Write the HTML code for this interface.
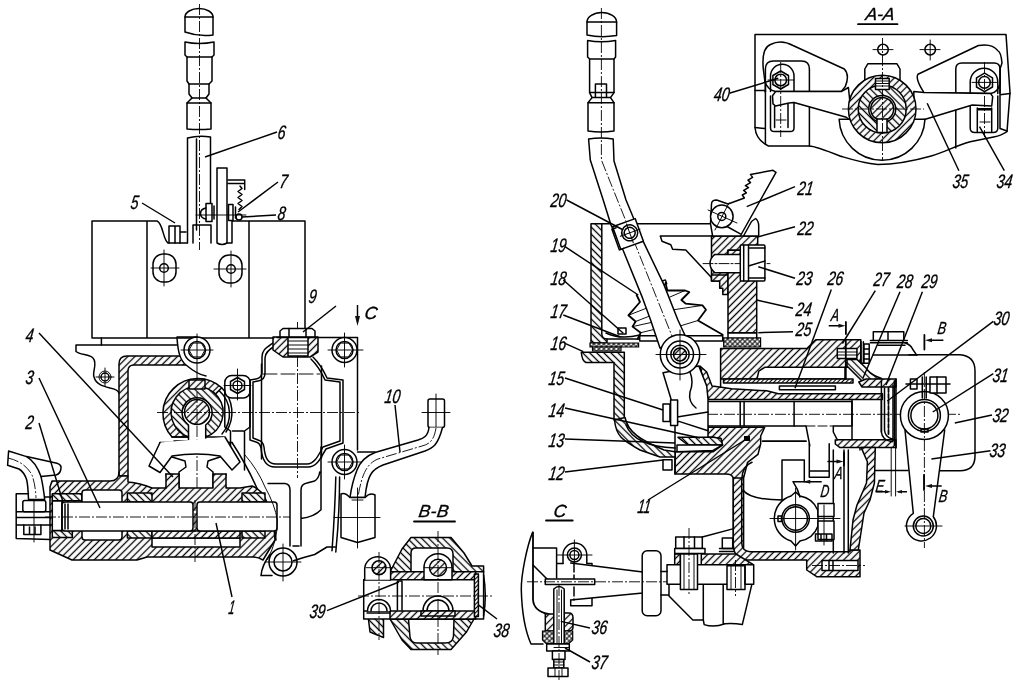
<!DOCTYPE html>
<html><head><meta charset="utf-8"><title>Drawing</title>
<style>
html,body{margin:0;padding:0;background:#fff;}
svg{display:block;filter:grayscale(1)}
.k{stroke:#000;stroke-width:1.5;fill:none;stroke-linecap:round;stroke-linejoin:round}
.kw{stroke:#000;stroke-width:1.5;fill:#fff;stroke-linecap:round;stroke-linejoin:round}
.b{stroke:#000;stroke-width:1.8;fill:none;stroke-linecap:round;stroke-linejoin:round}
.t{stroke:#000;stroke-width:.95;fill:none;stroke-linecap:round}
.c{stroke:#000;stroke-width:.9;fill:none;stroke-dasharray:11 2 2 2}
.l{stroke:#000;stroke-width:1.45;fill:none}
.h{stroke:#000;stroke-width:1.5;fill:url(#h1);stroke-linejoin:round}
.h2{stroke:#000;stroke-width:1.5;fill:url(#h2);stroke-linejoin:round}
.hd{stroke:#000;stroke-width:1.5;fill:url(#h3);stroke-linejoin:round}
.x{stroke:#000;stroke-width:1.2;fill:url(#hx)}
text{font-family:"Liberation Sans",sans-serif;font-style:italic;font-size:19.500px;fill:#000;stroke:#000;stroke-width:.35}
.lt{font-size:17.500px}
</style></head><body>
<svg width="1020" height="683" viewBox="0 0 1020 683">
<defs>
<pattern id="h1" width="5" height="5" patternUnits="userSpaceOnUse" patternTransform="rotate(-45)"><rect width="5" height="5" fill="#fff"/><line x1="0" y1="2.5" x2="5" y2="2.5" stroke="#000" stroke-width="1.300"/></pattern>
<pattern id="h2" width="5" height="5" patternUnits="userSpaceOnUse" patternTransform="rotate(45)"><rect width="5" height="5" fill="#fff"/><line x1="0" y1="2.5" x2="5" y2="2.5" stroke="#000" stroke-width="1.300"/></pattern>
<pattern id="h3" width="3" height="3" patternUnits="userSpaceOnUse" patternTransform="rotate(-45)"><rect width="3" height="3" fill="#fff"/><line x1="0" y1="1.5" x2="3" y2="1.5" stroke="#000" stroke-width="1.100"/></pattern>
<pattern id="hx" width="3.5" height="3.5" patternUnits="userSpaceOnUse" patternTransform="rotate(45)"><rect width="3.5" height="3.5" fill="#fff"/><path d="M0 1.75H3.5M1.75 0V3.5" stroke="#000" stroke-width="1"/></pattern>
</defs>
<rect width="1020" height="683" fill="#fff"/>

<!-- ===== LEFT VIEW ===== -->
<g id="left">
<!-- lever -->
<path class="k" d="M185 17A14 8.500 0 0 1 213 17"/>
<path class="k" d="M185 17V32Q199 37 213 35V17M185 17H213"/>
<path class="k" d="M185 42Q199 45 214 42V55L212 57V81L209 84V94L206 98L211 103V129M185 42V55L187 57V81L189 84V94L192 98L187 103V129Q199 130 211 129"/>
<path class="k" d="M187 57H212M189 84H209M192 98H206M187 103H211"/>
<path class="k" d="M187.500 138Q199 135 210.500 137V218M187.500 138V243M196.500 139V230"/>
<path class="c" d="M199.500 4V250"/>
<!-- latch plate -->
<path class="k" d="M217 243V168H227V243Q222 246 217 243"/>
<path class="k" d="M228 180H244.700V189.500M228 183.500H243.500"/>
<path class="k" stroke-width="1" d="M240 186l2 2.500l-4 3l4 3l-4 3l4 3l-4 3l4 3l-3 3"/>
<circle class="k" cx="239" cy="217" r="3"/>
<path class="kw" d="M206 203.500V221.500H212V203.500ZM228.500 204.500V220.500H233V204.500Z"/><path class="k" d="M214 206V219M235.500 207V218"/>
<path class="k" d="M206 208Q200.500 209 200.500 213.500Q200.500 218 206 219"/>
<path class="t" d="M196 215H246"/>

<!-- box -->
<path class="k" d="M92 338V221H157C163 223 163 240 168 243H187M193 243V225H211V243M227 243H232V221M232 221H305V338M92 338H277M147 221V338M249 221V338"/>
<path class="k" d="M169 226H180V243M169 226V243M180 232H186M175 226V243"/>
<g id="bh1"><rect class="k" x="153" y="254" width="23" height="28" rx="10"/><circle class="k" cx="164" cy="268" r="4.300"/><path class="t" d="M151 268H179M164 250V286"/></g>
<g><rect class="k" x="219" y="255" width="23" height="28" rx="10"/><circle class="k" cx="231" cy="269" r="4.300"/><path class="t" d="M214 269H246M231 251V287"/></g>
<!-- flange -->
<path class="k" d="M177 345H76V351.500C80 355 90 354 93 358C98 364 92 371 94 377C96 384 102 386 110 388C115 389 118 390 119 393"/>
<path class="k" d="M101.400 338V345"/>
<circle class="k" cx="105" cy="377" r="4"/><circle class="t" cx="105" cy="377" r="6"/><path class="t" d="M96 377H114M105 368V386"/>
<!-- wall hatched -->
<path class="h" d="M119 476V364Q119 356 127 356H185L190 365H134Q128 365 128 371V476Z"/>
<!-- boss lug -->
<path class="kw" d="M177 338C178 352 180 360 186 365C192 370 200 375 206 376"/>
<circle class="kw" cx="197" cy="350" r="13"/><circle class="k" cx="197" cy="350" r="8.500"/><path class="t" d="M181 350H213M197 334V382"/>

<!-- selector -->
<path class="h" d="M172 437A35 35 0 0 1 221.700 387.800L215.400 394.100A26 26 0 0 0 188.300 437Z"/>
<path class="h2" d="M188.500 437A26 26 0 1 1 205.700 437V425A15 15 0 1 0 188.500 425Z"/>
<circle class="h" cx="197" cy="412" r="12.500"/>
<rect class="h" x="189" y="380" width="16" height="9"/>
<path class="k" d="M221.700 387.800A35 35 0 0 1 226 432M219.500 391A31 31 0 0 1 222 434"/>
<path class="c" d="M157 412.500H360"/><path class="c" d="M197 392V500"/>
<!-- fork neck + fork -->
<path class="k" d="M188.500 437V441H174M205.700 437V441H222M160 442.500H232M172 437H188.500M205.700 437H224"/>
<path class="kw" d="M160 442.500L149 466L160 472.500L172 456Q197 452 220 456L232 470L240 462L225 437"/>
<rect x="166.700" y="473" width="11.600" height="16" fill="#fff"/><rect x="213.700" y="473" width="11.600" height="16" fill="#fff"/><path class="k" d="M172 457L185 461L186 467L179 472V488M166 474Q168 482 166 488M213 488V472L207 467L208 461L220 457M226 474Q224 482 226 488"/>
<path class="k" d="M232 442.500Q250 470 262 500Q275 520 276 540"/>
<!-- bolt bracket -->
<rect class="kw" x="224.800" y="375.500" width="25.400" height="22.500" rx="7"/>
<path class="k" d="M237.500 377.500l7 4v8l-7 4l-7-4v-8z"/><circle class="k" cx="237.500" cy="385.500" r="4.500"/><path class="t" d="M224 385.500H251M237.500 369V400"/>
<path class="k" d="M224.800 390V427L230.500 431V446M250 390V427L244.500 431V470M232.500 431H243.500"/>
<!-- cylinder -->
<path class="k" d="M273 343C266 348 262 350 262 357V372Q262 378 256 379L250 380V440L256 442Q260 443 261 448C262 460 266 467 275 467H308C318 467 322 455 326 449L343 443V380L327 378C324 372 322 366 313 357"/>
<path class="k" d="M275 346C268 350 265 353 265 358V373Q265 380 258 381L253 382V438L258 440Q263 441 264 447C265 458 268 464 276 464H307C315 464 319 454 323 447L340 441V382L325 380C322 374 320 368 311 359"/>
<path class="k" d="M261.500 364V459M321.500 366V458"/>
<path class="t" d="M263 374H320" stroke-dasharray="14 4"/>
<path class="c" d="M297.500 322V478"/>
<!-- nut 9 -->
<path class="h" d="M273 337H318V352L310 357H283L273 350Z"/>
<rect class="kw" x="288" y="337" width="20" height="19"/><path class="t" d="M288 341H308M288 345H308M288 349H308M288 353H308"/>
<path class="kw" d="M280 337V331L283 328.500H312L315 331V337Z"/><path class="k" d="M289 328.500V337M306 328.500V337"/>
<path class="k" d="M277 337.400H357.500V450M197 337H177"/>
<g><circle class="kw" cx="344.500" cy="350" r="12.500"/><circle class="k" cx="344.500" cy="350" r="8.500"/><path class="t" d="M328 350H363M344.500 333V367"/></g>
<g><circle class="kw" cx="344.500" cy="462" r="12.500"/><circle class="k" cx="344.500" cy="462" r="8.500"/><path class="t" d="M328 462H363M344.500 445V479"/></g>

<path class="t" d="M205.0 350.0L201.0 356.9L193.0 356.9L189.0 350.0L193.0 343.1L201.0 343.1ZM352.5 350.0L348.5 356.9L340.5 356.9L336.5 350.0L340.5 343.1L348.5 343.1ZM352.5 462.0L348.5 468.9L340.5 468.9L336.5 462.0L340.5 455.1L348.5 455.1ZM291.5 562.0L287.2 569.4L278.8 569.4L274.5 562.0L278.8 554.6L287.2 554.6Z"/>
<!-- arrow C -->
<path class="l" d="M357.500 305V322"/><path d="M355 316H360L357.500 326Z" fill="#111"/>
<text class="lt" transform="translate(364 319) skewX(-8)">C</text>

<!-- bottom housing -->
<path class="h" d="M52 481H110Q119 481 119 472V476H128V482Q140 483 152 488H166V474H179V488H213V474H226V488H240L252 486Q262 490 266 500Q274 520 275 540L263 560Q258 557 253 557H147L137 560H72L50 550V487Z"/>

<rect class="h2" x="52.300" y="493.700" width="29.500" height="7"/><rect class="h2" x="52.300" y="530.500" width="20" height="7"/>
<rect class="kw" x="52.300" y="501" width="10" height="29.500"/>
<rect class="kw" x="82" y="490" width="40" height="50" rx="3"/>
<rect class="h2" x="127.400" y="493" width="24.600" height="9"/><rect class="h2" x="127.400" y="531" width="24.600" height="7"/>
<rect class="h2" x="242" y="493" width="23" height="9"/><rect class="h2" x="242" y="531" width="23" height="7"/>
<rect class="kw" x="152" y="538" width="88" height="9"/>
<rect class="h" x="152" y="531" width="88" height="7"/>
<rect class="kw" x="62" y="502" width="131" height="29" rx="3"/>
<rect class="kw" x="197" y="502" width="80" height="29" rx="3"/>
<path class="k" d="M62 502V531M68 504V529M65 504V529"/>
<path class="c" d="M45 517H290"/><path class="c" d="M195 500V564"/>

<circle class="kw" cx="283" cy="562" r="14"/><circle class="k" cx="283" cy="562" r="9"/><path class="t" d="M265 562H301M283 544V581"/>

<!-- lower right webs -->
<path class="k" d="M268 483.500H285Q290 484 290 490V546M301 546V490Q301 484 307 483L314.700 481Q319 478 319.700 472M293 546H299M301 518.400Q314 517 321 509.700V447M335.800 477Q335 510 332 550.700M339.600 477Q339.500 515 335.800 552M293.500 560.700Q305 557 314.700 554.500Q322 550 327 547H335M270 554.500Q262 565 261 575.600H272"/>
<path class="t" d="M245 455Q258 470 265 487Q275 505 277.300 520Q278 540 267.400 559.500"/>
<!-- left pipe fitting -->
<path class="kw" d="M8.600 451L26.600 456.600L57 463.300Q62 465 60.900 469Q60 474 56 475L41 476.600Q43 485 44.700 499.400H28.500Q28 485 26.600 479.500Q24 472 19 469L7.600 465.200Z"/>
<path class="k" d="M26.600 456.600Q36 462 41 476.600"/>
<path class="c" d="M8 458Q25 462 32 475Q35.500 485 36 498"/>
<path class="k" d="M28.500 493.700H16.200V538.400L50.400 539.400M44.700 497H51M16.200 511.800H51M16.200 517.500H51M16.200 525H51"/>
<rect class="k" x="22.800" y="500.400" width="23" height="11.400" rx="2"/>
<path class="k" d="M23.800 525V534.600H40.900V525M29.500 527V534.600M35 527V534.600"/>
<path class="t" d="M34 500V542"/>
<!-- pipe 10 -->
<rect class="kw" x="428" y="399" width="16.500" height="28.500" rx="2"/>
<path class="t" d="M422 412.500H450M436 394V432"/>
<path class="kw" d="M429 427.500C428 436 424 438 418 440L375 452.500C366 456 360 462 357 470C353 480 351 490 350 497.500H365C366 488 367 480 371 474C374 469 378 467 383 465L425 451C433 448 438 445 442.500 427.500"/>
<path class="c" d="M436 428C434 440 430 444 422 446L378 459C368 463 362 472 358 497"/>
<path class="kw" d="M341 494Q345 492 350 497.500H365Q370 492 375 495V537.500L357.500 542.500L341 537.500Z"/>
<path class="t" d="M334 517.500H380M357.500 488V548M352 500H363"/>
<path class="k" d="M357.500 452H375"/>
<!-- labels left -->
<text transform="translate(277 138.5) skewX(-8)" textLength="7.800" lengthAdjust="spacingAndGlyphs">6</text><path class="l" d="M205 157L277 132"/>
<text transform="translate(279 187.5) skewX(-8)" textLength="7.800" lengthAdjust="spacingAndGlyphs">7</text><path class="l" d="M238 212L278 182"/>
<text transform="translate(277 219.5) skewX(-8)" textLength="7.800" lengthAdjust="spacingAndGlyphs">8</text><path class="l" d="M242 217L276 215"/>
<text transform="translate(130 208.5) skewX(-8)" textLength="7.800" lengthAdjust="spacingAndGlyphs">5</text><path class="l" d="M142 203L175 223"/>
<text transform="translate(308 302.5) skewX(-8)" textLength="7.800" lengthAdjust="spacingAndGlyphs">9</text><path class="l" d="M303 332L336 306"/>
<text transform="translate(25 341.5) skewX(-8)" textLength="7.800" lengthAdjust="spacingAndGlyphs">4</text><path class="l" d="M39 333L173 477"/>
<text transform="translate(25 383.5) skewX(-8)" textLength="7.800" lengthAdjust="spacingAndGlyphs">3</text><path class="l" d="M39 378L100 508"/>
<text transform="translate(25 428.5) skewX(-8)" textLength="7.800" lengthAdjust="spacingAndGlyphs">2</text><path class="l" d="M39 423L63 502"/>
<text transform="translate(228 613.5) skewX(-8)" textLength="6" lengthAdjust="spacingAndGlyphs">1</text><path class="l" d="M232 597L216 523"/>
<text transform="translate(384 402.5) skewX(-8)" textLength="15.600" lengthAdjust="spacingAndGlyphs">10</text><path class="l" d="M395 405L400 452"/>
</g>

<!-- ===== B-B ===== -->
<g id="bb">
<text class="lt" transform="translate(418 517) skewX(-8)" textLength="30" lengthAdjust="spacing">B-B</text>
<path class="b" d="M414 521.500H455" stroke-width="2.200"/>
<path class="h2" d="M390 572L402 549L411 537.500H451L464 553L472 566H483.600V572Z"/>
<path class="kw" d="M411 572V553Q411 548 416 548H447Q453 548 453 554V572Z"/>
<path class="h2" d="M390 619L402 640L411 649.500H451L466.500 632L474 619Z"/>
<path class="kw" d="M408.500 619L410 637Q411 643 417 643H445Q453 643 453.500 636L454 619Z"/>
<path class="h2" d="M367.700 613L370 632L383.500 637.500V613Z"/>
<path class="kw" d="M390 571.700H483.600V619H363.700V579.700H390Z"/>
<rect class="h" x="390" y="571.700" width="85.700" height="8"/>
<rect class="h" x="390" y="611" width="85.700" height="8"/>
<path class="k" d="M363.700 579.700H390M363.700 611H390M367 613H390M483.600 575Q487 596 483.600 616"/>
<path class="kw" d="M364.700 579.700V568.500A13 13 0 0 1 390.600 568.500V579.700"/>
<circle class="h" cx="379" cy="567.700" r="7"/>
<path class="kw" d="M424 579.700V567.700A14 14 0 0 1 452 567.700V579.700Z"/>
<circle class="h" cx="438" cy="567.700" r="8.500"/>
<path class="kw" d="M367.500 611A11.500 11.500 0 0 1 390.500 611"/><path class="k" d="M371 611A8 8 0 0 1 387 611"/>
<path class="kw" d="M423 611A15 15 0 0 1 453 611Z"/><path class="k" d="M427 611A11 11 0 0 1 449 611"/>
<path class="h" d="M421 611H455V616H421Z"/>
<path class="k" d="M397.400 581V610M402 581V610M397.400 581H402"/>
<rect class="hd" x="474.400" y="574" width="4" height="42.500"/>
<path class="c" d="M358 596H492"/><path class="c" d="M438 531V655"/><path class="c" d="M379 552V640"/>
<path class="t" d="M366 567.700H392M424 567.700H452"/>
<text transform="translate(493 636.5) skewX(-8)" textLength="15.600" lengthAdjust="spacingAndGlyphs">38</text><path class="l" d="M478 604.600L497 619"/>
<text transform="translate(309 617.5) skewX(-8)" textLength="15.600" lengthAdjust="spacingAndGlyphs">39</text><path class="l" d="M327 610.700L399 582"/>
</g>

<!-- ===== C view ===== -->
<g id="cv">
<text class="lt" transform="translate(553 517) skewX(-8)">C</text>
<path class="b" d="M546 520.500H572.700" stroke-width="2.200"/>
<path class="k" d="M532.600 532.400C527 546 521 575 521.300 590C522 617 527 635 531 644H543"/>
<path class="b" d="M533 532.400V600Q534 611 548 614"/>
<path class="k" d="M533 548H556.600V578M533 565L548 580"/>
<path class="kw" d="M563 563.400V555A11.800 11.800 0 0 1 586.800 555V563.400H592V605.800H570.700V600"/>
<circle class="k" cx="574.400" cy="555" r="7"/><circle class="k" cx="574.400" cy="555" r="4.500"/>
<path class="t" d="M557 555H592M574.400 540V572"/>
<path class="kw" d="M570.700 563L642.800 572V593L570.700 600"/>
<path class="k" d="M556.600 563.400H563M574 563V600" stroke-dasharray="9 3"/>
<rect class="kw" x="642.200" y="550.700" width="18.800" height="65" rx="5"/>
<rect class="kw" x="545.300" y="579" width="49.400" height="5.600"/>
<path class="h" d="M545.300 614H553.800V631H545.300Z"/><path class="h" d="M564.200 613H569Q573 613 573 618V627Q573 631 569 631H564.200Z"/>
<path class="x" d="M542.500 631H572.700V640L569 643.500H546L542.500 640Z"/>
<path class="kw" d="M553.800 644V589Q559 584 564.200 589V644Z"/><path class="t" d="M557 590V644M561.500 590V644"/>
<rect class="kw" x="546.700" y="644" width="22.600" height="7"/><rect class="kw" x="552.400" y="651" width="12.600" height="8.500"/>
<rect class="kw" x="553.800" y="659.500" width="10" height="8.500"/><rect class="kw" x="548" y="668" width="20" height="8.400"/>
<path class="t" d="M554 662H564M554 665H564M554 647.500H569M555 668V676M562 668V676"/>
<path class="c" d="M527 581.800H668"/><path class="c" d="M559 585V680"/>
<text transform="translate(591 633.5) skewX(-8)" textLength="15.600" lengthAdjust="spacingAndGlyphs">36</text><path class="l" d="M560.800 621.400L590 628"/>
<text transform="translate(591 668.5) skewX(-8)" textLength="15.600" lengthAdjust="spacingAndGlyphs">37</text><path class="l" d="M565 648L590 662"/>
</g>

<!-- ===== RIGHT VIEW ===== -->
<g id="right">
<!-- lever top -->
<path class="k" d="M587 22A14.800 9.500 0 0 1 616.600 22"/>
<path class="k" d="M587 22V35Q601 38 616.600 35.500V22ZM587.600 40.500Q601 43 615.600 40.500V57L614 59V92.600L610.500 97.600L614 102.700V131Q601 133 588 131V102.700L592 97.600L589.600 92.600V59L587.600 57Z"/>
<path class="k" d="M589.600 59H614M592 97.600H610.500M588 102.700H614M589.600 92.600H614M595.400 97.600V84H606.500V97.600"/>

<!-- box / boot -->
<path class="h2" d="M591 223.800H601.800V334Q602 339 607 339V343H591Z"/>
<path class="k" d="M601.800 223.800H712.800M607 339H640"/>
<path class="x" d="M590 343H638.600V347H590Z"/><path class="x" d="M592.500 347H621V351H592.500Z"/>
<path class="k" d="M606 333Q620 340 640 335M618 328H626V334H618Z"/>
<path class="h2" d="M581.300 352.200H624.300V420H614V362.500H586Q582 361 581.300 352.200Z"/>
<path class="kw" d="M639.700 335.800H722.700V341H639.700Z"/>
<!-- bellows -->
<path class="b" stroke="#000" stroke-width="2.700" d="M636.600 295L640 302L628.400 315.300L635.600 321.500L632.500 326.600L640.700 332.700L637.600 339M665.600 283L667.300 290.500H685L689.300 292L681.400 300L685.800 303.700L702.500 305.400L706 309.800L698 320.500L722.700 334.800"/>
<path class="t" d="M628.400 315.300L652 306M635.600 321.500L655 314M632.500 326.600L658 321M640.700 332.700L660 328M702.500 305.400L672 310M698 320.500L680 326M685 290.500L670 297"/>
<rect class="k" x="662" y="280.500" width="4" height="4" transform="rotate(-20 664 282)"/>
<!-- lever lower -->
<path class="kw" d="M588.600 139Q601 137 613.200 139L614 161L626 200L634 219.300L642.700 240.400L663.800 284.400L677.900 320L689 344L660 348L650.600 320L642.700 298.400L623.400 251L611 225L603.200 200L590.300 160Z"/>
<path class="c" d="M601.400 8V160L684 366"/>
<!-- clamp 20 -->
<g transform="rotate(-20 628 234)"><rect class="kw" x="616" y="222" width="24" height="24"/><path class="k" d="M619 224H614.500V246H619"/><circle class="k" cx="630" cy="233.500" r="8"/><circle class="k" cx="630" cy="233.500" r="5.500"/><path class="t" d="M620 233.500H641M630 224V244"/></g>
<!-- shelf -->
<path class="k" d="M712.800 236H660.300L662 241.300L670.800 244.800L672.600 249.200L685.800 250L712.800 279"/>
<!-- block 22/24 -->
<path class="h" d="M711.500 236H757.700V250.300H728V281H711.500Z"/>
<path class="h" d="M711.500 275V281H719.700V288.200H722.800V294.400H728V275Z"/>
<path class="h" d="M728 250.300H756.700V332.700H728Z"/>
<path class="kw" d="M743.300 254.400H715Q710 258 710 263.600Q710 269 715 272.800H743.300Z"/>
<path class="t" d="M703 263.600H770" stroke-dasharray="10 2 2 2"/>
<rect class="kw" x="740.300" y="245" width="24.600" height="36" rx="1"/><path class="k" d="M743.700 245V281M748.500 245V281M748.500 266L765 261M748.500 248H765M748.500 278H765"/>
<path class="x" d="M723.700 337.900H760.600V347H723.700Z"/>
<path class="k" d="M728 332.700H756.700V337.900M728 332.700V337.900"/>
<!-- sector 21 -->
<path class="kw" d="M711.500 204Q711.500 200 716.700 200L728 204L744.400 198L742.300 195L746.400 192.800L743.700 190.400L748.500 187.700L745.400 185.600L750.500 182.600L748 180.100L752.600 177.400L750.500 174.400L773 170.300L776 172.300L740.300 236H712.600L710.500 223.600Z"/>
<path class="kw" d="M751.500 221.500L755.600 218.500Q758.700 221 758.700 226V236H743.500Z"/>
<circle class="kw" cx="721.800" cy="216.400" r="11.300"/><circle class="k" cx="721.800" cy="216.400" r="4"/>
<path class="k" d="M727 226.500L740.300 233.800"/>
<path class="t" d="M708 210L737 223M715 230L729 203"/>
<!-- main housing upper -->
<path class="h" d="M720.600 348.600H806.900L815.700 339.800H860.800V367.300H845V379H720.600Z"/>
<path class="kw" d="M757 379L758.800 371.200L764.700 367.300H845V379Z"/>
<path class="hd" d="M723.500 379H853V383H723.500Z"/>
<path class="h" d="M700 366L706.700 372L712 386L719.600 386.900L731.400 388.800L766.700 390.800L778.400 393.700H882.400V399.600H708.800L706 392Z"/>
<path class="k" d="M720.600 379V387"/>
<rect class="kw" x="779.400" y="385.900" width="56" height="3.900"/>
<rect class="kw" x="837.300" y="348.600" width="19.600" height="9.800"/><path class="t" d="M837.300 352H857M837.300 355H857"/>
<path class="h2" d="M847 359.500H857L866 368Q870 374 876 376.200L881.500 378.500L866 381H862L847 366Z"/><path class="b" stroke-width="2.400" d="M845.800 340V379"/>
<path class="h" d="M858.800 382L866 379H896V387H862Z"/>
<path class="h" d="M835.300 439.800H896V447.600H840L835.300 444Z"/>
<!-- shaft -->
<path class="kw" d="M707.800 401.600H852V426H833.300V432L837.300 439.800M806 426L809.800 445.700M806 426H707.800Z"/>
<path class="k" d="M740.200 401.600V426M744.100 401.600V426M794.100 401.600V426M852 399.600V439.800M881.400 399.600V432"/>
<path class="c" d="M690 414.300H960"/>
<path class="t" d="M806 426H833" stroke-dasharray="9 3"/>
<!-- end cap -->
<path class="k" d="M881.400 381V432Q882 440 892 441.800M884.500 388V430Q885 437 892 439M896 379V448M893 385V441"/>
<path class="b" d="M888.500 388V436" stroke-dasharray="4 2" stroke-width="2.500"/><path class="b" d="M894.500 381V445" stroke-width="2"/>
<!-- below shaft left -->
<path class="h" d="M708 427.300H764.700L760.700 436V443.800L758 454.400L747.600 462.300L743.600 478V547.700H733.300V478Q732 474 726 474H675V451.800H713L722.500 445L721 438.600L713.300 437.300H708Z"/>
<path class="h2" d="M678 437.300H713.300L721 438.600L722.500 445H688Z"/>
<path class="kw" d="M677 445H722.500L713 450.400L677 451.700Z"/>
<rect x="744" y="436" width="6" height="5" fill="#000"/><path class="b" d="M762.700 441.200H806" stroke-width="2.500"/>
<rect class="kw" x="663" y="459.700" width="9" height="10.300"/>
<path class="k" d="M675 425V474"/>
<!-- left wall & bottom cover -->
<path class="h2" d="M614.500 420C616 436 622 440 640 450L660 457H675V451.800L664 450C640 440 628 432 625 417.500Z"/>
<path class="k" d="M626 425C632 440 650 447 675 448"/>
<!-- pivot + lower lever arm -->
<path class="kw" d="M663 372.700L671 399V425.400L679 421.400L708 430.700V399L706.700 385.900L698.800 366Z"/>
<path class="k" d="M671 418L708 412M690 372Q694 382 690 392Q688 402 696 408"/>
<rect class="kw" x="663" y="404" width="7" height="17.400"/><rect class="kw" x="670.600" y="400" width="7" height="25.400"/>
<circle class="kw" cx="680" cy="354.500" r="19.700"/><circle class="k" cx="680" cy="354.500" r="13.500"/><circle class="k" cx="680" cy="354.500" r="9.200"/><circle class="h" cx="680" cy="354.500" r="6.500"/>
<path class="t" d="M656 354.500H706M680 330V380"/>

<!-- lower body -->
<path class="h" d="M733.300 478V545Q734 560 748 560H806.700V570L816.700 576.700H860V550H850V551.700H750Q742 551 741.700 543V478Z"/>
<path class="k" d="M741.700 480Q742 466 752 462.300M743 490Q750 500 783 500"/>
<path class="h" d="M861.200 447.600H875.300L874.400 483L870 500L864 513L858.300 550H850L853 520L857 505L866.500 483L867.400 461.800Z"/>
<path class="k" d="M833.300 450V553M844 450V553M848.300 450V553M860 448.300V450"/>

<rect class="kw" x="822" y="560.500" width="36" height="10"/><path class="k" d="M829 560.500V570.500M833 560.500V570.500"/><path class="c" d="M812 565.500H865"/>
<!-- part above D shaft -->
<path class="k" d="M782 500V460H804.300V481.700M809.300 443.700V477.300H829.200V443.700M809.300 471H829.200"/>
<!-- D shaft -->
<path class="kw" d="M795.600 492L800 496A23.500 23.500 0 0 1 818 511V526A23.500 23.500 0 0 1 800 541L795.600 546L791 541A23.500 23.500 0 0 1 791 496Z"/>
<circle class="k" cx="795.600" cy="518.500" r="13.700"/><circle class="k" cx="795.600" cy="518.500" r="11.800"/>
<path class="kw" d="M818 503.400H834V516.500H818ZM818 521H834V539.500H818Z"/>
<path class="k" d="M815.500 534H832V541H815.500ZM821 534V541M826.500 534V541M778 516H781.500V521.500H778Z"/>
<path class="t" d="M770 518.500H840M795.600 488V550M824 505V545"/>
<path class="k" d="M800 497Q798 489 793 481.700H806"/>
<!-- bolts bottom-left -->
<path class="h" d="M701.300 554H736L753.300 564.700H701.300Z"/><path class="h" d="M674.700 554H680.400V564.700H674.700Z"/>
<rect class="kw" x="675.700" y="537" width="26.600" height="11.500"/><rect class="kw" x="674.700" y="548.500" width="30.300" height="5"/>
<path class="k" d="M684 537V548.500M694.500 537V548.500"/>
<rect class="kw" x="667" y="564.700" width="86.700" height="19.500"/>
<rect class="kw" x="680.400" y="554" width="17.100" height="35.400"/><path class="t" d="M684 554V589M694 554V589"/>
<rect class="kw" x="722.300" y="538" width="10.400" height="10.500"/><path class="k" d="M719.500 548.500H734M719.500 551.500H734"/>
<rect class="kw" x="727" y="565.700" width="18" height="23.700"/><path class="t" d="M731 566V589M741 566V589"/>
<path class="k" d="M745 565.700V584.200"/>
<path class="c" d="M689 528V596"/><path class="c" d="M735.500 560V596"/>
<path class="k" d="M669 584.700V596L692.800 620H703.300L704.200 624.600Q714 628 725 623.700Q734 623 742.300 624.600L751.800 584.700M703.300 584.700V620M723.200 584.700V623.700M661 571.400H667M661 595H669"/>
<path class="k" d="M702.300 537L733.700 528.600"/>
<!-- cover 32 -->
<path class="k" d="M909 354.800H960Q975 356 975 371V456Q975 470.700 960 470.700H940M875.300 470.600H908"/>
<path class="k" d="M905 342.800Q910.800 345 912.500 349L916.700 355.100"/>
<path class="k" d="M873.300 340.500V331.700H903.800V340.500M888 331.700V340.500M870.400 340.500H907.300M870.400 342.800H907.300M878 345.200H905M861 341.700V363.300H863.400V341.700M864 344H869.200V363.300H864ZM864 349H869.200M864 354H869.200M864 359H869.200M873.300 355.100H917"/>
<!-- lever 31/33 -->
<path class="kw" d="M905 430L913.300 513.300A15 15 0 1 0 933.300 516.700L944.700 430Z"/>
<circle class="kw" cx="924.400" cy="415.400" r="24"/><circle class="k" cx="924.400" cy="415.400" r="16"/><circle class="k" cx="924.400" cy="415.400" r="13.500"/>
<circle class="k" cx="923.300" cy="526" r="10"/><circle class="k" cx="923.300" cy="526" r="7.500"/>
<path class="kw" d="M910.400 379H917V389H910.400ZM930 377H946V393H930Z"/><path class="k" d="M922.300 377V398M926.200 377V398M906 384H950M937 377V393M921 429H928V432H921Z"/>
<path class="c" d="M924.400 372V548"/><path class="t" d="M905 526H942"/>
<!-- section marks -->
<path class="b" stroke-width="2.300" d="M845.900 322V334M924.400 335V349.500M844 452.300V465.500M924 475V490"/>
<path class="l" d="M828.700 325.800H842M943.400 340.300H930M827.400 461.500H840M941.700 486H929M821.700 481.700H806M876.200 491.800H888M907 491.800H898"/>
<path d="M845.500 325.800l-7-2v4zM925 340.300l7-2v4zM843.500 461.500l-7-2v4zM925 486l7-2v4zM803.300 481.700l7-2v4zM891 491.800l-6-1.800v3.600zM896 491.800l6-1.800v3.600z" fill="#111"/>
<path class="t" d="M891.200 448V496M895.600 448V496"/>
<!-- right labels -->
<text transform="translate(550 206.5) skewX(-8)" textLength="15.600" lengthAdjust="spacingAndGlyphs">20</text><path class="l" d="M566.7 200L623.3 230"/>
<text transform="translate(550 251.5) skewX(-8)" textLength="15.600" lengthAdjust="spacingAndGlyphs">19</text><path class="l" d="M565 246.7L638.3 295"/>
<text transform="translate(550 284.5) skewX(-8)" textLength="15.600" lengthAdjust="spacingAndGlyphs">18</text><path class="l" d="M563.3 280L623.3 333.3"/>
<text transform="translate(550 318) skewX(-8)" textLength="15.600" lengthAdjust="spacingAndGlyphs">17</text><path class="l" d="M563.3 315L620 336.7"/>
<text transform="translate(550 349.5) skewX(-8)" textLength="15.600" lengthAdjust="spacingAndGlyphs">16</text><path class="l" d="M565 343.3L583.3 351.7"/>
<text transform="translate(548 384.5) skewX(-8)" textLength="15.600" lengthAdjust="spacingAndGlyphs">15</text><path class="l" d="M565 378L663 410"/>
<text transform="translate(548 416.5) skewX(-8)" textLength="15.600" lengthAdjust="spacingAndGlyphs">14</text><path class="l" d="M565 408L700 438"/>
<text transform="translate(548 446.5) skewX(-8)" textLength="15.600" lengthAdjust="spacingAndGlyphs">13</text><path class="l" d="M565 439L675 443"/>
<text transform="translate(548 479.5) skewX(-8)" textLength="15.600" lengthAdjust="spacingAndGlyphs">12</text><path class="l" d="M565 472L663 460"/>
<text transform="translate(637 512.5) skewX(-8)" textLength="13" lengthAdjust="spacingAndGlyphs">11</text><path class="l" d="M648 500L745 440"/>
<text transform="translate(797 194.5) skewX(-8)" textLength="15.600" lengthAdjust="spacingAndGlyphs">21</text><path class="l" d="M746.7 206.7L795 186.7"/>
<text transform="translate(797 234.5) skewX(-8)" textLength="15.600" lengthAdjust="spacingAndGlyphs">22</text><path class="l" d="M756.7 237.3L795 226.7"/>
<text transform="translate(796 284.5) skewX(-8)" textLength="15.600" lengthAdjust="spacingAndGlyphs">23</text><path class="l" d="M758.3 266.7L795 278.3"/>
<text transform="translate(795.3 316) skewX(-8)" textLength="15.600" lengthAdjust="spacingAndGlyphs">24</text><path class="l" d="M756.7 300L793 308.3"/>
<text transform="translate(795.3 336) skewX(-8)" textLength="15.600" lengthAdjust="spacingAndGlyphs">25</text><path class="l" d="M758.3 332.7L793 331.7"/>
<text transform="translate(827 284.5) skewX(-8)" textLength="15.600" lengthAdjust="spacingAndGlyphs">26</text><path class="l" d="M831.3 289.4L795 388.3"/>
<text transform="translate(873 285.5) skewX(-8)" textLength="15.600" lengthAdjust="spacingAndGlyphs">27</text><path class="l" d="M875.3 290.6L842.4 343.5"/>
<text transform="translate(896.5 287.5) skewX(-8)" textLength="15.600" lengthAdjust="spacingAndGlyphs">28</text><path class="l" d="M900 291.8L863 378"/>
<text transform="translate(921 287.5) skewX(-8)" textLength="15.600" lengthAdjust="spacingAndGlyphs">29</text><path class="l" d="M922.4 291.8L886 385"/>
<text transform="translate(993 324.5) skewX(-8)" textLength="15.600" lengthAdjust="spacingAndGlyphs">30</text><path class="l" d="M993.3 321.3L887.3 401"/>
<text transform="translate(992 381.5) skewX(-8)" textLength="15.600" lengthAdjust="spacingAndGlyphs">31</text><path class="l" d="M993.3 373.6L932.7 412"/>
<text transform="translate(992 421.5) skewX(-8)" textLength="15.600" lengthAdjust="spacingAndGlyphs">32</text><path class="l" d="M992 415L954.8 423"/>
<text transform="translate(989 457.1) skewX(-8)" textLength="15.600" lengthAdjust="spacingAndGlyphs">33</text><path class="l" d="M990.5 450.7L931.4 459"/>
<text class="lt" transform="translate(830.6 321) skewX(-8)" textLength="8" lengthAdjust="spacingAndGlyphs">A</text>
<text class="lt" transform="translate(937 334) skewX(-8)" textLength="8.5" lengthAdjust="spacingAndGlyphs">B</text>
<text class="lt" transform="translate(834 478.6) skewX(-8)" textLength="8" lengthAdjust="spacingAndGlyphs">A</text>
<text class="lt" transform="translate(938.3 501.7) skewX(-8)" textLength="8.5" lengthAdjust="spacingAndGlyphs">B</text>
<text class="lt" transform="translate(820 496.7) skewX(-8)" textLength="8.5" lengthAdjust="spacingAndGlyphs">D</text>
<text class="lt" transform="translate(875 491.7) skewX(-8)" textLength="8.5" lengthAdjust="spacingAndGlyphs">E</text>
</g>

<!-- ===== A-A ===== -->
<g id="aa">
<text class="lt" transform="translate(865 19.500) skewX(-8)" textLength="29" lengthAdjust="spacing">A-A</text>
<path class="b" d="M858 24.200H897.500" stroke-width="2.200"/>
<path class="k" d="M755 34.400H1006L1010 92.600L1007 131.600Q1000 136 994.800 136.700L970.200 141.800C955 146 945 152 931.200 156C910 162 895 164.500 877.700 164.500C862 163 850 159 840 156C825 150 815 146 809.400 146H768.400Q756 140 755 127.500Z"/>
<path class="k" d="M755 90.600H765.400V144M755 127.500L765 128.500M1010 93.500L1000 94.700V128.500L1007 131"/>
<!-- slot regions -->
<path class="k" d="M765.400 92V69Q765.400 60.900 773.500 60.900H801.400Q809.400 60.900 809.400 69V146M955.800 148V69Q955.800 63 962 63H994Q1000 63 1000 69V94"/>
<!-- wings -->
<path class="kw" d="M763.300 69C762 55 764 47 770.500 44.500Q781 39 793 45.500L844.300 69Q850 75 845.300 86.500L841.200 91.600H775.600Q768 90 765 82Z"/>
<path class="kw" d="M1000 69L1002 63Q1001 52 997.800 50.600Q992 43 978.400 45.500L918 74.200Q915 79 924 92.600L990.700 93.600Q998 92 1000 84Z"/>
<path class="k" d="M765.400 92V69Q765.400 60.900 773.500 60.900H801.400Q809.400 60.900 809.400 69V91.600M955.800 93V69Q955.800 63 962 63H994Q1000 63 1000 69V93"/>
<path class="k" d="M770.500 91.600V76A11.500 11.500 0 0 1 794 76V91.600M794 102.500V128Q794 131.600 790 131.600H774.500Q770.500 131.600 770.500 128V96M774.600 106V127.500M788 103V127.500"/>
<path class="k" d="M970.200 93.600V82A13.800 13.800 0 0 1 997.800 82V93.600M997.800 96V128Q997.800 132.600 993 132.600H975Q970.200 132.600 970.200 128V106M977.300 108V131.600M991.700 108V131.600"/>
<!-- lower arms -->
<path class="kw" d="M848.400 87.500L841.200 91.600H775.600L772.500 95.700L773 103.900L775.600 106L789 102.900L794 102.500L846.300 117.200L852 122Z"/>
<path class="kw" d="M913.800 91.500L924 92.600L990.700 93.600L992.700 96.700L991.700 106L972.200 105L922 120.300L914 124Z"/>
<path d="M977.300 108H991.700V110.500H977.300Z" fill="#000"/>
<!-- hub -->
<path class="kw" d="M839.100 119.300A43 43 0 0 0 925 119.300Z"/>
<path class="kw" d="M864.800 69L867.800 63.800H897L900 69V80H864.800Z"/>
<circle class="h" cx="882.200" cy="109" r="33.800"/>
<circle class="h2" cx="882.200" cy="109" r="24"/>
<circle class="kw" cx="882.200" cy="109" r="13.500"/><circle class="h" cx="882.200" cy="109" r="11.500"/>
<rect class="kw" x="877" y="119" width="10" height="13.500"/>
<rect class="kw" x="875.500" y="78.500" width="13.700" height="11"/><path class="t" d="M875.500 81H889M875.500 83.500H889M875.500 86H889"/>
<!-- bolts -->
<path class="kw" d="M780.700 71l7.800 4.500v9l-7.800 4.500l-7.800-4.500v-9z"/><circle class="k" cx="780.700" cy="80" r="5.800"/>
<path class="kw" d="M984.500 73.200l8 4.600v9.200l-8 4.600l-8-4.600v-9.200z"/><circle class="k" cx="984.500" cy="82.400" r="5.800"/>
<path class="c" d="M780.700 62V137"/><path class="c" d="M984.500 62V137"/><path class="t" d="M768 80H794M972 82.400H997M776 120H786M980 122H990"/>
<circle class="k" cx="883" cy="49.600" r="5.300"/><circle class="k" cx="930.200" cy="49.600" r="5.300"/>
<path class="t" d="M873 49.600H893M920 49.600H940M930.200 40V60"/>
<path class="c" d="M882.500 38V160"/><path class="c" d="M842 109H924"/>
<text transform="translate(952 187.500) skewX(-8)" textLength="15.600" lengthAdjust="spacingAndGlyphs">35</text><path class="l" d="M927.200 103.200L958.900 170.700"/>
<text transform="translate(996 187.500) skewX(-8)" textLength="15.600" lengthAdjust="spacingAndGlyphs">34</text><path class="l" d="M979.500 126.700L1004.300 170.700"/>
<text transform="translate(713.300 101.200) skewX(-8)" textLength="15.600" lengthAdjust="spacingAndGlyphs">40</text><path class="l" d="M729.300 93.300L778.300 78.300"/>
</g>
</svg>
</body></html>
